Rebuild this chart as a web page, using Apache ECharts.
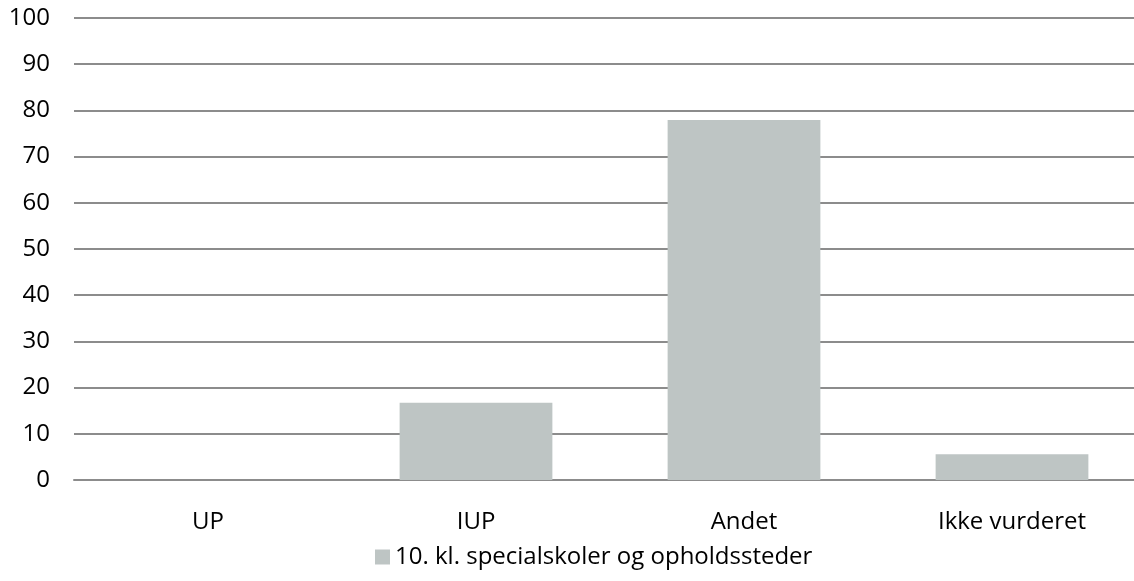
<!DOCTYPE html>
<html>
<head>
    <meta charset="utf-8" />
    <style>
        html, body { margin: 0; padding: 0; background: #fff; overflow: hidden; }
        /* chart is wider than the window so the gridlines run off the right edge */
        #chart { width: 1146px; height: 581px; }
    </style>
    <script src="https://cdn.jsdelivr.net/npm/echarts@6/dist/echarts.min.js"></script>
</head>
<body>
    <div id="chart"></div>
    <script type="text/javascript">
        var categories = ['UP', 'IUP', 'Andet', 'Ikke vurderet'];
        var seriesName = '10. kl. specialskoler og opholdssteder';
        var values = [0, 16.7, 77.9, 5.6];

        var font = '"Open Sans", "Noto Sans", sans-serif';
        var chart = echarts.init(document.getElementById('chart'));
        var option = {
            backgroundColor: '#fff',
            animation: false,
            grid: { left: 74, right: 0, top: 18, bottom: 101 },
            legend: {
                left: 370,
                top: 540,
                itemWidth: 15,
                itemHeight: 15,
                itemGap: 5,
                icon: 'rect',
                textStyle: { fontFamily: font, fontSize: 24, color: '#000' },
                data: [seriesName]
            },
            xAxis: {
                type: 'category',
                data: categories,
                axisTick: { show: false },
                axisLine: { lineStyle: { color: '#8c8c8c', width: 2 } },
                axisLabel: { margin: 30, fontFamily: font, fontSize: 24, color: '#000' }
            },
            yAxis: {
                type: 'value',
                min: 0,
                max: 100,
                interval: 10,
                axisLine: { show: false },
                axisTick: { show: false },
                axisLabel: { margin: 24, fontFamily: font, fontSize: 24, color: '#000' },
                splitLine: { lineStyle: { color: '#8c8c8c', width: 2 } }
            },
            series: [{
                name: seriesName,
                type: 'bar',
                data: values,
                barWidth: '57%',
                itemStyle: { color: '#bec5c4' }
            }]
        };
        chart.setOption(option);
    </script>
</body>
</html>
